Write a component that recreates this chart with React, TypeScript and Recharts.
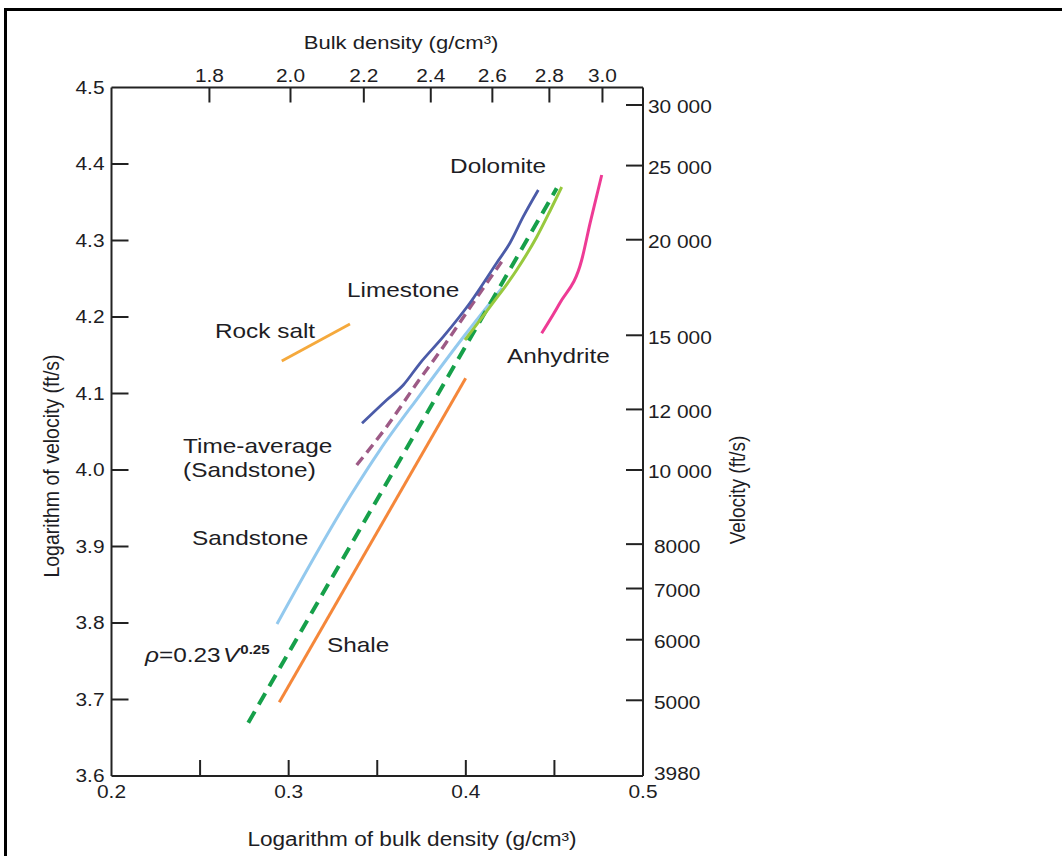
import React from 'react';
import { LineChart, Line, XAxis, YAxis, ReferenceDot } from 'recharts';

const FONT = '"Liberation Sans", Arial, Helvetica, sans-serif';
const SX = 1.16;
const INK = '#1d1d24';
const AXIS = '#222222';

// ---- tick values ----
const logDensityTicks = [0.2, 0.25, 0.3, 0.35, 0.4, 0.45, 0.5];
const logVelocityTicks = [3.6, 3.7, 3.8, 3.9, 4.0, 4.1, 4.2, 4.3, 4.4, 4.5];
const densityTicks = [1.8, 2.0, 2.2, 2.4, 2.6, 2.8, 3.0];
const velocityTicks = [30000, 25000, 20000, 15000, 12000, 10000, 8000, 7000, 6000, 5000, 3980];

// ---- series (x = log10 density, y = log10 velocity) ----
const rockSalt = [
  { x: 0.2961, y: 4.1425 },
  { x: 0.3346, y: 4.1908 },
];
const shale = [
  { x: 0.2947, y: 3.6963 },
  { x: 0.3999, y: 4.1199 },
];
const gardner = [
  { x: 0.2772, y: 3.6697 },
  { x: 0.4513, y: 4.3682 },
];
const sandstone = [
  { x: 0.2934, y: 3.7987 },
  { x: 0.3351, y: 3.9673 },
  { x: 0.3515, y: 4.0261 },
  { x: 0.3741, y: 4.098 },
  { x: 0.3995, y: 4.1765 },
  { x: 0.4204, y: 4.2379 },
];
const timeAverage = [
  { x: 0.3384, y: 4.0065 },
  { x: 0.3553, y: 4.0566 },
  { x: 0.3723, y: 4.1133 },
  { x: 0.3873, y: 4.1612 },
  { x: 0.4033, y: 4.2157 },
  { x: 0.4202, y: 4.2723 },
];
const limestone = [
  { x: 0.3414, y: 4.061 },
  { x: 0.3553, y: 4.0915 },
  { x: 0.3647, y: 4.1111 },
  { x: 0.3741, y: 4.1395 },
  { x: 0.3873, y: 4.1743 },
  { x: 0.4023, y: 4.2183 },
  { x: 0.4174, y: 4.2706 },
  { x: 0.4249, y: 4.2967 },
  { x: 0.4324, y: 4.3311 },
  { x: 0.4409, y: 4.366 },
];
const dolomite = [
  { x: 0.3995, y: 4.1699 },
  { x: 0.4136, y: 4.2131 },
  { x: 0.4287, y: 4.2614 },
  { x: 0.44, y: 4.3046 },
  { x: 0.4475, y: 4.3386 },
  { x: 0.4541, y: 4.3699 },
];
const anhydrite = [
  { x: 0.4428, y: 4.1787 },
  { x: 0.453, y: 4.2179 },
  { x: 0.4654, y: 4.2745 },
  { x: 0.4701, y: 4.3225 },
  { x: 0.4767, y: 4.3856 },
];

// ---- annotations (text start / baseline, in data units) ----
const annotations = [
  { key: 'dolomite', text: 'Dolomite', x: 0.3911, y: 4.3882 },
  { key: 'limestone', text: 'Limestone', x: 0.3329, y: 4.2261 },
  { key: 'anhydrite', text: 'Anhydrite', x: 0.4232, y: 4.1399 },
  { key: 'rocksalt', text: 'Rock salt', x: 0.2584, y: 4.1725 },
  { key: 'ta1', text: 'Time-average', x: 0.2404, y: 4.0222 },
  { key: 'ta2', text: '(Sandstone)', x: 0.2404, y: 3.9908 },
  { key: 'sandstone', text: 'Sandstone', x: 0.2454, y: 3.902 },
  { key: 'shale', text: 'Shale', x: 0.3216, y: 3.7621 },
  { key: 'gardner', text: 'ρ=0.23V0.25', x: 0.2189, y: 3.749 },
];

const W = 1062;
const H = 856;
const PLOT = { left: 111.5, right: 643, top: 87.5, bottom: 776 };
const WL = 100, WR = 100, HT = 50, HB = 40;
const margin = {
  left: PLOT.left - WL,
  right: W - PLOT.right - WR,
  top: PLOT.top - HT,
  bottom: H - PLOT.bottom - HB,
};

function Txt(props: any) {
  const { x, y, size, anchor = 'start', baseline = 'alphabetic', rotate, children } = props;
  const t = `translate(${x} ${y}) scale(${SX} 1)` + (rotate ? ` rotate(${rotate})` : '');
  return (
    <text
      transform={t}
      x={0}
      y={0}
      fontSize={size}
      fontFamily={FONT}
      fill={INK}
      textAnchor={anchor}
      dominantBaseline={baseline}
    >
      {children}
    </text>
  );
}

const near = (a: number, b: number) => Math.abs(a - b) < 1e-6;

function LeftTick(props: any) {
  const { x, y, payload } = props;
  const v = payload.value as number;
  const edge = near(v, 3.6) || near(v, 4.5);
  return (
    <g>
      {!edge && <line x1={x} x2={x + 17} y1={y} y2={y} stroke={AXIS} strokeWidth={2} />}
      <Txt x={x - 7} y={y} size={18} anchor="end" baseline="central">
        {v.toFixed(1)}
      </Txt>
    </g>
  );
}

function fmtVel(v: number) {
  if (v >= 10000) {
    const s = String(v);
    return s.slice(0, s.length - 3) + ' ' + s.slice(s.length - 3);
  }
  return String(v);
}

function RightTick(props: any) {
  const { x, y, index } = props;
  const v = velocityTicks[index];
  const edge = v === 3980;
  const dx = v < 10000 ? 11 : 5;
  return (
    <g>
      {!edge && <line x1={x - 17} x2={x} y1={y} y2={y} stroke={AXIS} strokeWidth={2} />}
      <Txt x={x + dx} y={edge ? y - 3 : y + 2} size={18} anchor="start" baseline="central">
        {fmtVel(v)}
      </Txt>
    </g>
  );
}

function TopTick(props: any) {
  const { x, y, index } = props;
  const d = densityTicks[index];
  return (
    <g>
      <line x1={x} x2={x} y1={y} y2={y + 15} stroke={AXIS} strokeWidth={2} />
      <Txt x={x} y={y - 6} size={18} anchor="middle">
        {d.toFixed(1)}
      </Txt>
    </g>
  );
}

function BottomTick(props: any) {
  const { x, y, payload } = props;
  const v = payload.value as number;
  const edge = near(v, 0.2) || near(v, 0.5);
  const major = near(Math.round(v * 10), v * 10);
  return (
    <g>
      {!edge && <line x1={x} x2={x} y1={y} y2={y - 16} stroke={AXIS} strokeWidth={2} />}
      {major && (
        <Txt x={x} y={y + 22} size={18} anchor="middle">
          {v.toFixed(1)}
        </Txt>
      )}
    </g>
  );
}

function NoteShape(props: any) {
  const { cx, cy, note } = props;
  if (note.key === 'gardner') {
    return (
      <text
        transform={`translate(${cx} ${cy}) scale(${SX} 1)`}
        x={0}
        y={0}
        fontSize={21}
        fontFamily={FONT}
        fill={INK}
      >
        <tspan fontStyle="italic">ρ</tspan>
        <tspan>=0.23</tspan>
        <tspan fontStyle="italic" dx={2}>V</tspan>
        <tspan fontSize={13} fontWeight="bold" dy={-8} dx={1}>0.25</tspan>
      </text>
    );
  }
  return (
    <Txt x={cx} y={cy} size={21}>
      {note.text}
    </Txt>
  );
}

const lineCommon = {
  dot: false as const,
  activeDot: false as const,
  isAnimationActive: false,
  dataKey: 'y',
  xAxisId: 'bottom',
  yAxisId: 'left',
};

export default function App() {
  return (
    <div style={{ position: 'absolute', left: 0, top: 0, width: W, height: H, overflow: 'hidden', background: '#fff' }}>
      <div style={{ position: 'absolute', left: 0, top: 0 }}>
        <LineChart width={W} height={H} margin={margin}>
          <XAxis
            xAxisId="bottom"
            orientation="bottom"
            type="number"
            dataKey="x"
            domain={[0.2, 0.5]}
            allowDataOverflow
            ticks={logDensityTicks}
            interval={0}
            height={HB}
            tickSize={0}
            tickMargin={0}
            tickLine={false}
            axisLine={{ stroke: AXIS, strokeWidth: 2 }}
            tick={(p: any) => <BottomTick {...p} />}
          />
          <XAxis
            xAxisId="top"
            orientation="top"
            type="number"
            dataKey="x"
            domain={[0.2, 0.5]}
            allowDataOverflow
            ticks={densityTicks.map((d) => Math.log10(d))}
            interval={0}
            height={HT}
            tickSize={0}
            tickMargin={0}
            tickLine={false}
            axisLine={{ stroke: AXIS, strokeWidth: 2 }}
            tick={(p: any) => <TopTick {...p} />}
          />
          <YAxis
            yAxisId="left"
            orientation="left"
            type="number"
            domain={[3.6, 4.5]}
            allowDataOverflow
            ticks={logVelocityTicks}
            interval={0}
            width={WL}
            tickSize={0}
            tickMargin={0}
            tickLine={false}
            axisLine={{ stroke: AXIS, strokeWidth: 2 }}
            tick={(p: any) => <LeftTick {...p} />}
          />
          <YAxis
            yAxisId="right"
            orientation="right"
            type="number"
            domain={[3.6, 4.5]}
            allowDataOverflow
            ticks={velocityTicks.map((v) => Math.log10(v))}
            interval={0}
            width={WR}
            tickSize={0}
            tickMargin={0}
            tickLine={false}
            axisLine={{ stroke: AXIS, strokeWidth: 2 }}
            tick={(p: any) => <RightTick {...p} />}
          />

          <Line {...lineCommon} data={rockSalt} type="linear" stroke="#f5a93c" strokeWidth={2.8} />
          <Line {...lineCommon} data={shale} type="linear" stroke="#f5873a" strokeWidth={3} />
          <Line {...lineCommon} data={sandstone} type="monotone" stroke="#93c9ee" strokeWidth={3} />
          <Line {...lineCommon} data={gardner} type="linear" stroke="#16a04a" strokeWidth={4} strokeDasharray="13 8" />
          <Line {...lineCommon} data={timeAverage} type="monotone" stroke="#9d5a86" strokeWidth={3.4} strokeDasharray="10 6" />
          <Line {...lineCommon} data={limestone} type="monotone" stroke="#4b5ba8" strokeWidth={2.8} />
          <Line {...lineCommon} data={dolomite} type="monotone" stroke="#98c93e" strokeWidth={3} />
          <Line
            {...lineCommon}
            xAxisId="top"
            yAxisId="right"
            data={anhydrite}
            type="monotone"
            stroke="#ee3b95"
            strokeWidth={3}
          />

          {annotations.map((n) => (
            <ReferenceDot
              key={n.key}
              xAxisId="bottom"
              yAxisId="left"
              x={n.x}
              y={n.y}
              r={0}
              ifOverflow="visible"
              shape={(p: any) => <NoteShape {...p} note={n} />}
            />
          ))}
        </LineChart>
      </div>
      <svg
        width={W}
        height={H}
        style={{ position: 'absolute', left: 0, top: 0, pointerEvents: 'none' }}
      >
        <line x1={4} x2={W} y1={9.5} y2={9.5} stroke="#000" strokeWidth={3} />
        <line x1={5.5} x2={5.5} y1={8} y2={H} stroke="#000" strokeWidth={3} />
        <Txt x={401} y={49} size={19} anchor="middle">
          Bulk density (g/cm³)
        </Txt>
        <Txt x={412} y={846} size={19.5} anchor="middle">
          Logarithm of bulk density (g/cm³)
        </Txt>
        <Txt x={51} y={466} size={19.5} anchor="middle" baseline="central" rotate={-90}>
          Logarithm of velocity (ft/s)
        </Txt>
        <Txt x={737} y={490} size={19} anchor="middle" baseline="central" rotate={-90}>
          Velocity (ft/s)
        </Txt>
      </svg>
    </div>
  );
}
